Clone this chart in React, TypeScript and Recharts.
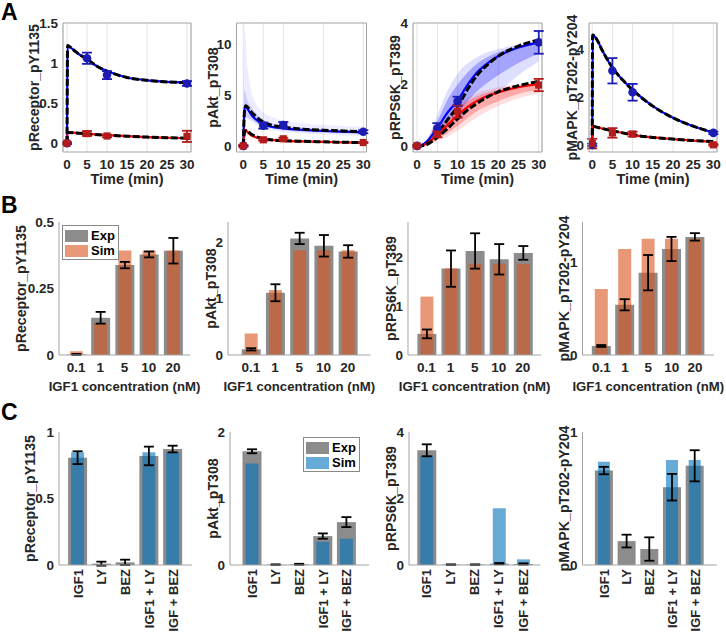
import React from "react";
import {
  ComposedChart,
  Line,
  Area,
  Scatter,
  Bar,
  XAxis,
  YAxis,
  CartesianGrid,
  ErrorBar,
  Label,
  Legend,
} from "recharts";

const FONT = "'Liberation Sans', Arial, Helvetica, sans-serif";
const INK = "#262626";
const AXIS = "#a3a3a3";
const GRID = "#e4e4e4";
const BLUE = "#0000ff";
const RED = "#ff0000";
const BLUE_DOT = "#1c1cb4";
const RED_DOT = "#b41c1c";
const GRAY = "#8c8c8c";
const ORANGE = "#d9531a";
const SKY = "#0072bd";

const TIME_TICKS = [0, 5, 10, 15, 20, 25, 30];

// ---- A: time courses (sim = coloured line, alt = black dashed) ----
const recHiSim = [
  { t: 0, v: 0 }, { t: 0.15, v: 1.22 }, { t: 1, v: 1.19 }, { t: 2, v: 1.15 }, { t: 3, v: 1.11 },
  { t: 5, v: 1.05 }, { t: 7.5, v: 0.96 }, { t: 10, v: 0.9 }, { t: 15, v: 0.82 }, { t: 20, v: 0.785 },
  { t: 25, v: 0.765 }, { t: 30, v: 0.756 },
];
const recLoSim = [
  { t: 0, v: 0 }, { t: 0.15, v: 0.134 }, { t: 5, v: 0.115 }, { t: 10, v: 0.1 }, { t: 15, v: 0.087 },
  { t: 20, v: 0.076 }, { t: 25, v: 0.068 }, { t: 30, v: 0.063 },
];
const recHiExp = [{ t: 0, v: 0, e: 0.01 }, { t: 5, v: 1.06, e: 0.07 }, { t: 10, v: 0.85, e: 0.05 }, { t: 30, v: 0.745, e: 0.03 }];
const recLoExp = [{ t: 0, v: 0, e: 0.01 }, { t: 5, v: 0.12, e: 0.03 }, { t: 10, v: 0.09, e: 0.015 }, { t: 30, v: 0.085, e: 0.07 }];

const aktHiSim = [
  { t: 0, v: 0 }, { t: 0.3, v: 3.6 }, { t: 0.6, v: 3.9 }, { t: 1, v: 3.7 }, { t: 2, v: 3.05 }, { t: 3, v: 2.65 },
  { t: 5, v: 2.1 }, { t: 7.5, v: 1.85 }, { t: 10, v: 1.72 }, { t: 15, v: 1.57 }, { t: 20, v: 1.47 },
  { t: 25, v: 1.4 }, { t: 30, v: 1.35 },
];
const aktHiAlt = [
  { t: 0, v: 0 }, { t: 0.3, v: 3.4 }, { t: 0.6, v: 3.95 }, { t: 1, v: 3.85 }, { t: 2, v: 3.35 }, { t: 3, v: 2.95 },
  { t: 5, v: 2.35 }, { t: 7.5, v: 2.0 }, { t: 10, v: 1.85 }, { t: 15, v: 1.65 }, { t: 20, v: 1.55 },
  { t: 25, v: 1.47 }, { t: 30, v: 1.4 },
];
const aktLoSim = [
  { t: 0, v: 0 }, { t: 0.3, v: 1.5 }, { t: 0.6, v: 1.55 }, { t: 1, v: 1.4 }, { t: 2, v: 1.05 }, { t: 3, v: 0.88 },
  { t: 5, v: 0.66 }, { t: 7.5, v: 0.56 }, { t: 10, v: 0.5 }, { t: 15, v: 0.44 }, { t: 20, v: 0.39 },
  { t: 25, v: 0.35 }, { t: 30, v: 0.32 },
];
const aktLoAlt = [
  { t: 0, v: 0 }, { t: 0.3, v: 1.3 }, { t: 0.6, v: 1.5 }, { t: 1, v: 1.45 }, { t: 2, v: 1.15 }, { t: 3, v: 0.95 },
  { t: 5, v: 0.7 }, { t: 7.5, v: 0.58 }, { t: 10, v: 0.52 }, { t: 15, v: 0.45 }, { t: 20, v: 0.4 },
  { t: 25, v: 0.36 }, { t: 30, v: 0.33 },
];
const aktHiExp = [{ t: 0, v: 0, e: 0.05 }, { t: 5, v: 2.0, e: 0.3 }, { t: 10, v: 2.05, e: 0.3 }, { t: 30, v: 1.4, e: 0.15 }];
const aktLoExp = [{ t: 0, v: 0, e: 0.05 }, { t: 5, v: 0.6, e: 0.1 }, { t: 10, v: 0.7, e: 0.1 }, { t: 30, v: 0.33, e: 0.05 }];
const aktHiBandOuter = [
  { t: 0, lo: 0, hi: 0 }, { t: 0.3, lo: 2.5, hi: 12 }, { t: 0.6, lo: 2.7, hi: 10.5 }, { t: 1, lo: 2.6, hi: 8.0 },
  { t: 1.5, lo: 2.5, hi: 6.5 }, { t: 2, lo: 2.4, hi: 5.4 }, { t: 3, lo: 2.1, hi: 4.3 }, { t: 5, lo: 1.7, hi: 3.3 },
  { t: 7.5, lo: 1.5, hi: 2.8 }, { t: 10, lo: 1.4, hi: 2.5 }, { t: 15, lo: 1.2, hi: 2.2 }, { t: 20, lo: 1.1, hi: 2.05 },
  { t: 25, lo: 1.0, hi: 1.95 }, { t: 30, lo: 0.95, hi: 1.9 },
];
const aktHiBandInner = [
  { t: 0, lo: 0, hi: 0 }, { t: 0.3, lo: 3.0, hi: 5.5 }, { t: 1, lo: 2.8, hi: 4.5 }, { t: 2, lo: 2.6, hi: 3.8 },
  { t: 3, lo: 2.3, hi: 3.3 }, { t: 5, lo: 1.9, hi: 2.6 }, { t: 10, lo: 1.55, hi: 2.0 }, { t: 20, lo: 1.3, hi: 1.65 },
  { t: 30, lo: 1.2, hi: 1.55 },
];
const aktLoBand = [
  { t: 0, lo: 0, hi: 0 }, { t: 0.3, lo: 1.2, hi: 1.9 }, { t: 1, lo: 1.1, hi: 1.6 }, { t: 2, lo: 0.85, hi: 1.25 },
  { t: 5, lo: 0.5, hi: 0.8 }, { t: 10, lo: 0.4, hi: 0.65 }, { t: 20, lo: 0.3, hi: 0.5 }, { t: 30, lo: 0.25, hi: 0.42 },
];

const s6kHiSim = [
  { t: 0, v: 0 }, { t: 1, v: 0.02 }, { t: 2.5, v: 0.15 }, { t: 4, v: 0.4 }, { t: 5, v: 0.58 }, { t: 7.5, v: 1.08 },
  { t: 10, v: 1.48 }, { t: 12.5, v: 2.0 }, { t: 15, v: 2.42 }, { t: 17.5, v: 2.7 }, { t: 20, v: 2.92 },
  { t: 25, v: 3.2 }, { t: 30, v: 3.37 },
];
const s6kHiAlt = [
  { t: 0, v: 0 }, { t: 1, v: 0.01 }, { t: 2.5, v: 0.08 }, { t: 4, v: 0.25 }, { t: 5, v: 0.4 }, { t: 7.5, v: 0.85 },
  { t: 10, v: 1.28 }, { t: 12.5, v: 1.85 }, { t: 15, v: 2.33 }, { t: 17.5, v: 2.66 }, { t: 20, v: 2.92 },
  { t: 25, v: 3.25 }, { t: 30, v: 3.45 },
];
const s6kLoSim = [
  { t: 0, v: 0 }, { t: 1, v: 0.01 }, { t: 2.5, v: 0.08 }, { t: 4, v: 0.25 }, { t: 5, v: 0.37 }, { t: 7.5, v: 0.68 },
  { t: 10, v: 1.0 }, { t: 12.5, v: 1.27 }, { t: 15, v: 1.48 }, { t: 17.5, v: 1.63 }, { t: 20, v: 1.74 },
  { t: 25, v: 1.91 }, { t: 30, v: 2.02 },
];
const s6kLoAlt = [
  { t: 0, v: 0 }, { t: 1, v: 0.005 }, { t: 2.5, v: 0.05 }, { t: 4, v: 0.18 }, { t: 5, v: 0.28 }, { t: 7.5, v: 0.56 },
  { t: 10, v: 0.88 }, { t: 12.5, v: 1.17 }, { t: 15, v: 1.4 }, { t: 17.5, v: 1.6 }, { t: 20, v: 1.76 },
  { t: 25, v: 1.96 }, { t: 30, v: 2.1 },
];
const s6kHiExp = [{ t: 0, v: 0, e: 0.03 }, { t: 5, v: 0.57, e: 0.17 }, { t: 10, v: 1.45, e: 0.15 }, { t: 30, v: 3.37, e: 0.37 }];
const s6kLoExp = [{ t: 0, v: 0, e: 0.03 }, { t: 5, v: 0.38, e: 0.1 }, { t: 10, v: 1.12, e: 0.2 }, { t: 30, v: 1.98, e: 0.2 }];
const s6kHiBandOuter = [
  { t: 0, lo: 0, hi: 0 }, { t: 2.5, lo: 0.05, hi: 0.25 }, { t: 5, lo: 0.25, hi: 1.0 }, { t: 7.5, lo: 0.6, hi: 1.8 },
  { t: 10, lo: 0.8, hi: 2.35 }, { t: 15, lo: 1.4, hi: 2.9 }, { t: 20, lo: 1.75, hi: 3.15 }, { t: 25, lo: 2.3, hi: 3.3 },
  { t: 30, lo: 2.75, hi: 3.45 },
];
const s6kHiBandInner = [
  { t: 0, lo: 0, hi: 0 }, { t: 2.5, lo: 0.08, hi: 0.2 }, { t: 5, lo: 0.35, hi: 0.8 }, { t: 7.5, lo: 0.8, hi: 1.5 },
  { t: 10, lo: 1.1, hi: 2.0 }, { t: 15, lo: 1.8, hi: 2.7 }, { t: 20, lo: 2.3, hi: 3.05 }, { t: 25, lo: 2.7, hi: 3.25 },
  { t: 30, lo: 3.0, hi: 3.42 },
];
const s6kLoBandOuter = [
  { t: 0, lo: 0, hi: 0 }, { t: 2.5, lo: 0.02, hi: 0.12 }, { t: 5, lo: 0.15, hi: 0.5 }, { t: 7.5, lo: 0.3, hi: 0.9 },
  { t: 10, lo: 0.5, hi: 1.3 }, { t: 15, lo: 0.95, hi: 1.72 }, { t: 20, lo: 1.3, hi: 1.9 }, { t: 25, lo: 1.55, hi: 2.0 },
  { t: 30, lo: 1.72, hi: 2.08 },
];
const s6kLoBandInner = [
  { t: 0, lo: 0, hi: 0 }, { t: 2.5, lo: 0.04, hi: 0.1 }, { t: 5, lo: 0.2, hi: 0.45 }, { t: 7.5, lo: 0.42, hi: 0.8 },
  { t: 10, lo: 0.65, hi: 1.2 }, { t: 15, lo: 1.15, hi: 1.62 }, { t: 20, lo: 1.45, hi: 1.83 }, { t: 25, lo: 1.7, hi: 1.96 },
  { t: 30, lo: 1.82, hi: 2.05 },
];

const mapkHiSim = [
  { t: 0, v: 0 }, { t: 0.1, v: 4.6 }, { t: 1, v: 4.45 }, { t: 2.5, v: 3.95 }, { t: 5, v: 3.23 }, { t: 7.5, v: 2.72 },
  { t: 10, v: 2.3 }, { t: 15, v: 1.62 }, { t: 20, v: 1.13 }, { t: 25, v: 0.78 }, { t: 30, v: 0.52 },
];
const mapkLoSim = [
  { t: 0, v: 0 }, { t: 0.1, v: 0.77 }, { t: 2.5, v: 0.68 }, { t: 5, v: 0.59 }, { t: 7.5, v: 0.5 }, { t: 10, v: 0.42 },
  { t: 15, v: 0.31 }, { t: 20, v: 0.24 }, { t: 25, v: 0.18 }, { t: 30, v: 0.14 },
];
const mapkHiExp = [{ t: 0, v: 0, e: 0.05 }, { t: 5, v: 3.1, e: 0.53 }, { t: 10, v: 2.2, e: 0.35 }, { t: 30, v: 0.5, e: 0.05 }];
const mapkLoExp = [{ t: 0, v: 0.05, e: 0.2 }, { t: 5, v: 0.5, e: 0.2 }, { t: 10, v: 0.45, e: 0.1 }, { t: 30, v: 0.0, e: 0.03 }];

// ---- B: dose response ----
const DOSES = ["0.1", "1", "5", "10", "20"];
const recDoseExp = [0.002, 0.14, 0.338, 0.378, 0.392];
const recDoseErr = [0.002, 0.022, 0.012, 0.011, 0.048];
const recDoseSim = [0.014, 0.119, 0.393, 0.393, 0.393];
const aktDoseExp = [0.1, 1.1, 2.06, 1.93, 1.83];
const aktDoseErr = [0.02, 0.15, 0.1, 0.19, 0.11];
const aktDoseSim = [0.38, 1.15, 1.85, 1.85, 1.85];
const s6kDoseExp = [0.43, 1.76, 2.12, 1.95, 2.08];
const s6kDoseErr = [0.09, 0.37, 0.36, 0.31, 0.14];
const s6kDoseSim = [1.19, 1.76, 1.86, 1.86, 1.86];
const mapkDoseExp = [0.097, 0.54, 0.885, 1.14, 1.27];
const mapkDoseErr = [0.01, 0.06, 0.19, 0.13, 0.04];
const mapkDoseSim = [0.71, 1.14, 1.25, 1.25, 1.25];

// ---- C: inhibitors ----
const TREATS = ["IGF1", "LY", "BEZ", "IGF1 + LY", "IGF + BEZ"];
const recInhExp = [0.807, 0.01, 0.02, 0.82, 0.872];
const recInhErr = [0.048, 0.015, 0.02, 0.07, 0.025];
const recInhSim = [0.847, 0.003, 0.003, 0.847, 0.847];
const aktInhExp = [1.71, 0.005, 0.01, 0.435, 0.645];
const aktInhErr = [0.03, 0.005, 0.008, 0.04, 0.075];
const aktInhSim = [1.525, 0.002, 0.002, 0.35, 0.395];
const s6kInhExp = [3.45, 0.01, 0.01, 0.04, 0.03];
const s6kInhErr = [0.18, 0.01, 0.01, 0.02, 0.02];
const s6kInhSim = [3.29, 0.02, 0.02, 1.71, 0.17];
const mapkInhExp = [0.71, 0.18, 0.12, 0.585, 0.746];
const mapkInhErr = [0.028, 0.048, 0.088, 0.1, 0.117];
const mapkInhSim = [0.776, 0.001, 0.001, 0.79, 0.79];

const tickStyle = { fontSize: 13.5, fontWeight: 700, fill: INK, fontFamily: FONT };
const labelStyle = (size: number) => ({
  textAnchor: "middle" as const,
  fontSize: size,
  fontWeight: 700,
  fill: INK,
  fontFamily: FONT,
});

const circleShape = (color: string) => (p: any) => <circle cx={p.cx} cy={p.cy} r={4.3} fill={color} />;
const squareShape = (color: string) => (p: any) => (
  <rect x={p.cx - 3.6} y={p.cy - 3.6} width={7.2} height={7.2} fill={color} />
);

// frame lines for the boxed time-course axes (top edge and right edge)
const boxTop = ({ offset }: any) => [offset.top];
const boxRight = ({ offset }: any) => [offset.left + offset.width];

type Rect = [number, number, number, number];
const PAD = 24; // room around each plot so labels are not clipped

function TimePanel(props: any) {
  const { rect, xDomain, yDomain, yTicks, label, dist, bands, hi, hiAlt, lo, loAlt, hiExp, loExp } = props;
  const [L, T, Wd, Ht] = rect as Rect;
  const yW = dist + 12;
  const xH = 34;
  return (
    <div style={{ position: "absolute", left: L - yW, top: T - PAD }}>
      <ComposedChart width={yW + Wd + PAD} height={PAD + Ht + xH + 6} margin={{ top: PAD, right: PAD, left: 0, bottom: 6 }}>
        <CartesianGrid horizontal={false} stroke={GRID} />
        <CartesianGrid
          stroke={AXIS}
          horizontalCoordinatesGenerator={boxTop}
          verticalCoordinatesGenerator={boxRight}
        />
        <XAxis
          dataKey="t"
          type="number"
          domain={xDomain}
          ticks={TIME_TICKS}
          allowDataOverflow
          height={xH}
          stroke={AXIS}
          tickLine={false}
          tickSize={3}
          tickMargin={4}
          tick={tickStyle}
        >
          <Label value="Time (min)" position="insideBottom" offset={2} style={labelStyle(14.5)} />
        </XAxis>
        <YAxis
          type="number"
          domain={yDomain}
          ticks={yTicks}
          allowDataOverflow
          width={yW}
          stroke={AXIS}
          tickLine={false}
          tickSize={2}
          tickMargin={3}
          tick={tickStyle}
        >
          <Label value={label} angle={-90} position="insideLeft" offset={12} style={labelStyle(14.2)} />
        </YAxis>
        {bands.map((b: any, i: number) => (
          <Area
            key={i}
            data={b.data}
            dataKey={(d: any) => [d.lo, d.hi]}
            type="monotone"
            stroke="none"
            fill={b.color}
            fillOpacity={b.alpha}
            isAnimationActive={false}
          />
        ))}
        <Line data={hi} dataKey="v" type="monotone" stroke={BLUE} strokeWidth={2.2} dot={false} isAnimationActive={false} />
        <Line data={hiAlt} dataKey="v" type="monotone" stroke="#000" strokeWidth={3} strokeDasharray="7 2.5" dot={false} isAnimationActive={false} />
        <Line data={lo} dataKey="v" type="monotone" stroke={RED} strokeWidth={2.2} dot={false} isAnimationActive={false} />
        <Line data={loAlt} dataKey="v" type="monotone" stroke="#000" strokeWidth={3} strokeDasharray="7 2.5" dot={false} isAnimationActive={false} />
        <Scatter data={hiExp} dataKey="v" fill={BLUE_DOT} shape={circleShape(BLUE_DOT)} isAnimationActive={false}>
          <ErrorBar dataKey="e" direction="y" width={5} stroke={BLUE_DOT} strokeWidth={1.8} />
        </Scatter>
        <Scatter data={loExp} dataKey="v" fill={RED_DOT} shape={squareShape(RED_DOT)} isAnimationActive={false}>
          <ErrorBar dataKey="e" direction="y" width={5} stroke={RED_DOT} strokeWidth={1.8} />
        </Scatter>
      </ComposedChart>
    </div>
  );
}

function LegendBox({ payload }: any) {
  return (
    <div style={{ border: "1px solid #8a8a8a", background: "#fff", padding: "2px 3px 1px 2px" }}>
      {(payload || []).map((p: any) => (
        <div key={p.value} style={{ display: "flex", alignItems: "center", height: 15 }}>
          <span
            style={{
              width: 23,
              height: 12,
              background: p.color,
              opacity: p.value === "Sim" ? 0.6 : 1,
              display: "inline-block",
            }}
          />
          <span style={{ marginLeft: 3, fontFamily: FONT, fontWeight: 700, fontSize: 13, color: "#000" }}>{p.value}</span>
        </div>
      ))}
    </div>
  );
}

function BarPanel(props: any) {
  const { rect, pad, cats, exp, err, sim, simColor, yDomain, yTicks, label, dist, xLabel, legendAt } = props;
  const [L, T, Wd, Ht] = rect as Rect;
  const rows = cats.map((c: string, i: number) => ({ c, exp: exp[i], err: err[i], sim: sim[i] }));
  const band = (Wd - 2 * pad) / cats.length;
  const yW = dist + 12;
  const xH = xLabel ? 38 : 72;
  const rotTick = (p: any) => (
    <text
      x={p.x}
      y={p.y}
      dy="0.35em"
      transform={`rotate(-90 ${p.x} ${p.y})`}
      textAnchor="end"
      style={{ ...tickStyle, fontSize: 13 }}
    >
      {p.payload.value}
    </text>
  );
  return (
    <div style={{ position: "absolute", left: L - yW, top: T - PAD }}>
      <ComposedChart
        data={rows}
        width={yW + Wd + PAD}
        height={PAD + Ht + xH + 4}
        margin={{ top: PAD, right: PAD, left: 0, bottom: 4 }}
      >
        <XAxis
          xAxisId="exp"
          dataKey="c"
          padding={{ left: pad, right: pad }}
          height={xH}
          stroke={AXIS}
          tickLine={false}
          tickSize={xLabel ? 3 : 2}
          tickMargin={xLabel ? 4 : 2}
          tick={xLabel ? tickStyle : rotTick}
          interval={0}
        >
          {xLabel && <Label value={xLabel} position="insideBottom" offset={2} style={labelStyle(13.2)} />}
        </XAxis>
        <XAxis xAxisId="sim" dataKey="c" padding={{ left: pad, right: pad }} hide />
        <YAxis
          type="number"
          domain={yDomain}
          ticks={yTicks}
          allowDataOverflow
          width={yW}
          stroke={AXIS}
          tickLine={false}
          tickSize={2}
          tickMargin={3}
          tick={tickStyle}
        >
          <Label value={label} angle={-90} position="insideLeft" offset={12} style={labelStyle(14.2)} />
        </YAxis>
        <Bar xAxisId="exp" dataKey="exp" name="Exp" fill={GRAY} barSize={Math.round(band * 0.8)} isAnimationActive={false}>
          <ErrorBar dataKey="err" width={5} stroke="#000" strokeWidth={1.8} />
        </Bar>
        <Bar
          xAxisId="sim"
          dataKey="sim"
          name="Sim"
          fill={simColor}
          fillOpacity={0.6}
          barSize={Math.round(band * 0.55)}
          isAnimationActive={false}
        />
        {legendAt && (
          <Legend
            layout="vertical"
            align="center"
            verticalAlign="middle"
            content={<LegendBox />}
            wrapperStyle={{ left: yW + legendAt[0], top: PAD + legendAt[1], width: "auto" }}
          />
        )}
      </ComposedChart>
    </div>
  );
}

export default function App() {
  return (
    <div style={{ position: "absolute", left: 0, top: 0, width: 726, height: 633, background: "#fff", overflow: "hidden" }}>
      <TimePanel
        rect={[63, 23, 128, 129]}
        xDomain={[-1, 31]}
        yDomain={[-0.11, 1.5]}
        yTicks={[0, 0.5, 1, 1.5]}
        label="pReceptor_pY1135"
        dist={29}
        bands={[]}
        hi={recHiSim}
        hiAlt={recHiSim}
        lo={recLoSim}
        loAlt={recLoSim}
        hiExp={recHiExp}
        loExp={recLoExp}
      />
      <TimePanel
        rect={[236, 23, 130, 129]}
        xDomain={[-1.7, 30.8]}
        yDomain={[-0.6, 12.1]}
        yTicks={[0, 5, 10]}
        label="pAkt_pT308"
        dist={23.5}
        bands={[
          { data: aktHiBandOuter, color: BLUE, alpha: 0.07 },
          { data: aktHiBandInner, color: BLUE, alpha: 0.14 },
          { data: aktLoBand, color: RED, alpha: 0.12 },
        ]}
        hi={aktHiSim}
        hiAlt={aktHiAlt}
        lo={aktLoSim}
        loAlt={aktLoAlt}
        hiExp={aktHiExp}
        loExp={aktLoExp}
      />
      <TimePanel
        rect={[413, 23, 129, 129]}
        xDomain={[-1, 30.8]}
        yDomain={[-0.2, 4]}
        yTicks={[0, 2, 4]}
        label="pRPS6K_pT389"
        dist={18}
        bands={[
          { data: s6kHiBandOuter, color: BLUE, alpha: 0.13 },
          { data: s6kHiBandInner, color: BLUE, alpha: 0.26 },
          { data: s6kLoBandOuter, color: RED, alpha: 0.13 },
          { data: s6kLoBandInner, color: RED, alpha: 0.24 },
        ]}
        hi={s6kHiSim}
        hiAlt={s6kHiAlt}
        lo={s6kLoSim}
        loAlt={s6kLoAlt}
        hiExp={s6kHiExp}
        loExp={s6kLoExp}
      />
      <TimePanel
        rect={[589, 23, 128, 129]}
        xDomain={[-0.8, 30.9]}
        yDomain={[-0.3, 5.1]}
        yTicks={[0, 2, 4]}
        label="pMAPK_pT202-pY204"
        dist={17}
        bands={[]}
        hi={mapkHiSim}
        hiAlt={mapkHiSim}
        lo={mapkLoSim}
        loAlt={mapkLoSim}
        hiExp={mapkHiExp}
        loExp={mapkLoExp}
      />

      <BarPanel rect={[59.3, 222, 131, 133]} pad={4.9} cats={DOSES} exp={recDoseExp} err={recDoseErr} sim={recDoseSim}
        simColor={ORANGE} yDomain={[0, 0.5]} yTicks={[0, 0.25, 0.5]} label="pReceptor_pY1135" dist={38}
        xLabel="IGF1 concentration (nM)" legendAt={[2.7, 3]} />
      <BarPanel rect={[227.7, 222, 142.6, 133]} pad={10.7} cats={DOSES} exp={aktDoseExp} err={aktDoseErr} sim={aktDoseSim}
        simColor={ORANGE} yDomain={[0, 2.35]} yTicks={[0, 1, 2]} label="pAkt_pT308" dist={17}
        xLabel="IGF1 concentration (nM)" />
      <BarPanel rect={[408.3, 222, 133.3, 133]} pad={6.4} cats={DOSES} exp={s6kDoseExp} err={s6kDoseErr} sim={s6kDoseSim}
        simColor={ORANGE} yDomain={[0, 2.71]} yTicks={[0, 1, 2]} label="pRPS6K_pT389" dist={17}
        xLabel="IGF1 concentration (nM)" />
      <BarPanel rect={[582.7, 222, 131.6, 133]} pad={7.3} cats={DOSES} exp={mapkDoseExp} err={mapkDoseErr} sim={mapkDoseSim}
        simColor={ORANGE} yDomain={[0, 1.43]} yTicks={[0, 1]} label="pMAPK_pT202-pY204" dist={18.5}
        xLabel="IGF1 concentration (nM)" />

      <BarPanel rect={[59.3, 432, 133, 133]} pad={7.1} cats={TREATS} exp={recInhExp} err={recInhErr} sim={recInhSim}
        simColor={SKY} yDomain={[0, 1]} yTicks={[0, 0.5, 1]} label="pReceptor_pY1135" dist={29} />
      <BarPanel rect={[230, 432, 139, 133]} pad={10.5} cats={TREATS} exp={aktInhExp} err={aktInhErr} sim={aktInhSim}
        simColor={SKY} yDomain={[0, 2]} yTicks={[0, 1, 2]} label="pAkt_pT308" dist={17} legendAt={[73, 5]} />
      <BarPanel rect={[409.3, 432, 131.4, 133]} pad={5.3} cats={TREATS} exp={s6kInhExp} err={s6kInhErr} sim={s6kInhSim}
        simColor={SKY} yDomain={[0, 4]} yTicks={[0, 2, 4]} label="pRPS6K_pT389" dist={18} />
      <BarPanel rect={[582.7, 432, 134.3, 133]} pad={10.4} cats={TREATS} exp={mapkInhExp} err={mapkInhErr} sim={mapkInhSim}
        simColor={SKY} yDomain={[0, 1]} yTicks={[0, 1]} label="pMAPK_pT202-pY204" dist={18.5} />

      <svg width={726} height={633} style={{ position: "absolute", left: 0, top: 0, pointerEvents: "none" }}>
        <text x={1} y={19.5} style={{ fontFamily: FONT, fontWeight: 700, fontSize: 23, fill: "#000" }}>A</text>
        <text x={1} y={213} style={{ fontFamily: FONT, fontWeight: 700, fontSize: 23, fill: "#000" }}>B</text>
        <text x={1} y={420} style={{ fontFamily: FONT, fontWeight: 700, fontSize: 23, fill: "#000" }}>C</text>
      </svg>
    </div>
  );
}
